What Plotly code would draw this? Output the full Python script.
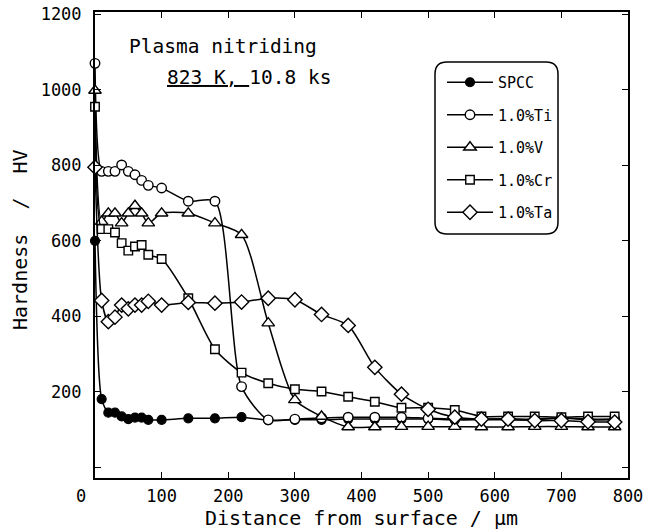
import plotly.graph_objects as go

# ---- data ----
spcc_x = [0, 10, 20, 30, 40, 50, 60, 70, 80, 100, 140, 180, 220, 260, 300, 340, 380, 420, 460, 500, 540, 580, 620, 660, 700, 740, 780]
spcc_y = [600, 181, 145, 145, 135, 128, 132, 132, 126, 126, 130, 130, 133, 125, 126, 126, 128, 128, 128, 128, 126, 126, 126, 126, 131, 126, 126]

ti_x = [0, 10, 20, 30, 40, 50, 60, 70, 80, 100, 140, 180, 220, 260, 300, 340, 380, 420, 460, 500, 540, 580, 620, 660, 700, 740, 780]
ti_y = [1070, 784, 784, 784, 801, 784, 775, 760, 747, 740, 705, 705, 214, 126, 128, 131, 133, 133, 133, 130, 128, 128, 128, 128, 131, 128, 128]

v_x = [0, 10, 20, 30, 40, 50, 60, 70, 80, 100, 140, 180, 220, 260, 300, 340, 380, 420, 460, 500, 540, 580, 620, 660, 700, 740, 780]
v_y = [998, 651, 673, 673, 647, 673, 693, 673, 647, 673, 673, 647, 616, 382, 179, 135, 107, 107, 108, 108, 108, 107, 107, 108, 108, 107, 107]

cr_x = [0, 10, 20, 30, 40, 50, 60, 70, 80, 100, 140, 180, 220, 260, 300, 340, 380, 420, 460, 500, 540, 580, 620, 660, 700, 740, 780]
cr_y = [955, 631, 631, 622, 594, 574, 585, 589, 563, 552, 448, 313, 251, 223, 207, 201, 187, 174, 158, 158, 152, 135, 135, 135, 133, 135, 135]

ta_x = [0, 10, 20, 30, 40, 50, 60, 70, 80, 100, 140, 180, 220, 260, 300, 340, 380, 420, 460, 500, 540, 580, 620, 660, 700, 740, 780]
ta_y = [795, 442, 386, 398, 430, 420, 430, 430, 440, 430, 437, 435, 438, 448, 444, 405, 376, 265, 194, 154, 133, 128, 128, 124, 124, 121, 120]

series_names = ["SPCC", "1.0%Ti", "1.0%V", "1.0%Cr", "1.0%Ta"]

x_tickvals = [0, 100, 200, 300, 400, 500, 600, 700, 800]
x_ticktext = ["", "100", "200", "300", "400", "500", "600", "700", "800"]
y_tickvals = [0, 200, 400, 600, 800, 1000, 1200]
y_ticktext = ["", "200", "400", "600", "800", "1000", "1200"]

# ---- layout geometry (pixels) ----
W, H = 645, 530
L, R, T, B = 95, 628, 12, 478
FONT = "DejaVu Sans Mono"


def px(x):
    return (x - L) / (R - L)


def py(y):
    return (B - y) / (B - T)


styles = [
    dict(symbol="circle", size=9, color="black", line=dict(color="black", width=1.2)),
    dict(symbol="circle", size=9.5, color="white", line=dict(color="black", width=1.4)),
    dict(symbol="triangle-up", size=11, color="white", line=dict(color="black", width=1.4)),
    dict(symbol="square", size=8.5, color="white", line=dict(color="black", width=1.4)),
    dict(symbol="diamond", size=11, color="white", line=dict(color="black", width=1.4)),
]

fig = go.Figure()
for name, xs, ys, mk in zip(series_names,
                            [spcc_x, ti_x, v_x, cr_x, ta_x],
                            [spcc_y, ti_y, v_y, cr_y, ta_y],
                            styles):
    fig.add_trace(go.Scatter(
        x=xs, y=ys, name=name, mode="lines+markers",
        line=dict(color="black", width=1.5, shape="spline", smoothing=0.7),
        marker=mk, cliponaxis=False, legendgroup=name,
    ))

axis_common = dict(
    showline=True, linecolor="black", linewidth=2, mirror="ticks",
    ticks="inside", ticklen=6, tickcolor="black", tickwidth=1.2,
    showgrid=False, zeroline=False, automargin=False,
    tickfont=dict(family=FONT, size=17, color="black"),
)

fig.update_xaxes(range=[0, 800], tickvals=x_tickvals, ticktext=x_ticktext,
                 ticklabelstandoff=2,
                 title=dict(text="Distance from surface / μm", standoff=1,
                            font=dict(family=FONT, size=20, color="black")),
                 **axis_common)
fig.update_yaxes(range=[-28, 1206], tickvals=y_tickvals, ticktext=y_ticktext,
                 ticklabelstandoff=8, **axis_common)

# rounded legend frame
x0, x1, y0, y1, r = 435, 558, 62, 234, 12
path = (f"M {px(x0 + r)},{py(y0)} L {px(x1 - r)},{py(y0)} Q {px(x1)},{py(y0)} {px(x1)},{py(y0 + r)} "
        f"L {px(x1)},{py(y1 - r)} Q {px(x1)},{py(y1)} {px(x1 - r)},{py(y1)} "
        f"L {px(x0 + r)},{py(y1)} Q {px(x0)},{py(y1)} {px(x0)},{py(y1 - r)} "
        f"L {px(x0)},{py(y0 + r)} Q {px(x0)},{py(y0)} {px(x0 + r)},{py(y0)} Z")

fig.update_layout(
    template="none",
    width=W, height=H,
    margin=dict(l=L, r=W - R, t=T, b=H - B, autoexpand=False),
    plot_bgcolor="white", paper_bgcolor="white",
    font=dict(family=FONT, color="black"),
    shapes=[dict(type="path", xref="paper", yref="paper", path=path,
                 line=dict(color="black", width=1.5), fillcolor="white", layer="below")],
    legend=dict(x=px(442), y=py(66), xanchor="left", yanchor="top",
                bgcolor="rgba(0,0,0,0)", borderwidth=0,
                font=dict(family=FONT, size=15, color="black"),
                tracegroupgap=10, itemwidth=46),
    annotations=[
        dict(text="Hardness  /  HV", x=px(20), y=py(240), xref="paper", yref="paper",
             xanchor="center", yanchor="middle", textangle=-90, showarrow=False,
             font=dict(family=FONT, size=20, color="black")),
        dict(text="Plasma nitriding", x=px(127), y=py(47), xref="paper", yref="paper",
             xanchor="left", yanchor="middle", showarrow=False,
             font=dict(family=FONT, size=19.5, color="black")),
        dict(text="<u>823 K, </u>10.8 ks", x=px(165), y=py(77), xref="paper", yref="paper",
             xanchor="left", yanchor="middle", showarrow=False,
             font=dict(family=FONT, size=19.5, color="black")),
        dict(text="0", x=px(81), y=py(496), xref="paper", yref="paper",
             xanchor="center", yanchor="middle", showarrow=False,
             font=dict(family=FONT, size=17, color="black")),
    ],
)

fig.write_html("out.html", config={"displayModeBar": False},
               post_script="document.body.style.margin='0px';")
